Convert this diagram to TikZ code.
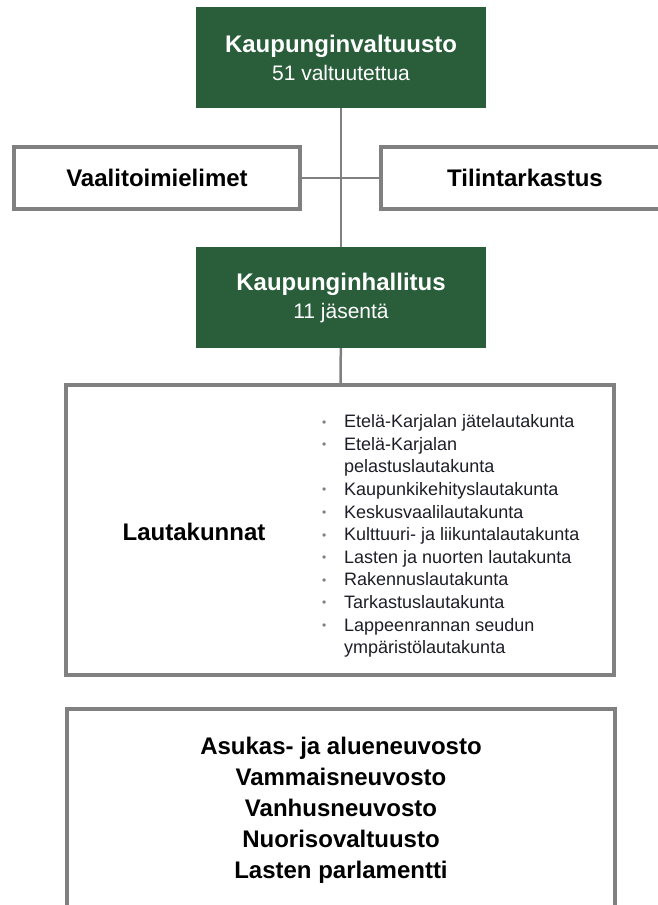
\documentclass[tikz,border=0pt]{standalone}
\usepackage{fontspec}
\setmainfont{Liberation Sans}
\definecolor{hallgreen}{RGB}{42,94,59}
\definecolor{boxgray}{RGB}{128,128,128}
\definecolor{listtext}{RGB}{30,30,40}
\newcommand\bul{\makebox[22pt][l]{\raisebox{1.5pt}{\textcolor{boxgray}{\fontsize{12}{12}\selectfont\textbullet}}}}
\begin{document}
\begin{tikzpicture}[x=1pt,y=-1pt,
	green node/.style = {fill=hallgreen, text=white, inner sep=0pt, minimum width=290pt,
		minimum height=101pt, align=center, font=\fontsize{24}{28}\selectfont},
	gray box/.style = {draw=boxgray, line width=4.5pt, fill=white, inner sep=0pt},
	link/.style = {draw=boxgray, line width=2.5pt}]
	\useasboundingbox (0,0) rectangle (657,905);
	\node[green node] (valtuusto) at (341,57.5) {\bfseries Kaupunginvaltuusto\\{\fontsize{21}{28}\selectfont 51 valtuutettua}};
	\node[gray box, minimum width=286pt, minimum height=62pt, font=\bfseries\fontsize{24}{28}\selectfont] (vaali) at (157,178) {Vaalitoimielimet};
	\node[gray box, minimum width=288pt, minimum height=62pt, font=\bfseries\fontsize{24}{28}\selectfont] (tilin) at (525,178) {Tilintarkastus};
	\node[green node] (hallitus) at (341,297.5) {\bfseries Kaupunginhallitus\\{\fontsize{21}{28}\selectfont 11 jäsentä}};
	\node[gray box, minimum width=548pt, minimum height=290pt] (lauta) at (340,530) {};
	\node[font=\bfseries\fontsize{24}{28}\selectfont] (lautaotsikko) at (194,532) {Lautakunnat};
	\node[anchor=west, inner sep=0pt, align=left, text=listtext, font=\fontsize{18}{22.6}\selectfont] (lautalista) at (322,536)
	{\bul Etelä-Karjalan jätelautakunta\\
	\bul Etelä-Karjalan\\
	\hspace*{22pt}pelastuslautakunta\\
	\bul Kaupunkikehityslautakunta\\
	\bul Keskusvaalilautakunta\\
	\bul Kulttuuri- ja liikuntalautakunta\\
	\bul Lasten ja nuorten lautakunta\\
	\bul Rakennuslautakunta\\
	\bul Tarkastuslautakunta\\
	\bul Lappeenrannan seudun\\
	\hspace*{22pt}ympäristölautakunta};
	\node[gray box, minimum width=548pt, minimum height=241pt] (neuvostot) at (341,829.5) {};
	\node[align=center, font=\bfseries\fontsize{24}{31}\selectfont] (neuvostolista) at (341,810)
	{Asukas- ja alueneuvosto\\ Vammaisneuvosto\\ Vanhusneuvosto\\ Nuorisovaltuusto\\ Lasten parlamentti};
	
	\path[link]
	(valtuusto) edge (hallitus)
	(vaali) edge (tilin)
	(hallitus) edge (lauta);
\end{tikzpicture}
\end{document}
